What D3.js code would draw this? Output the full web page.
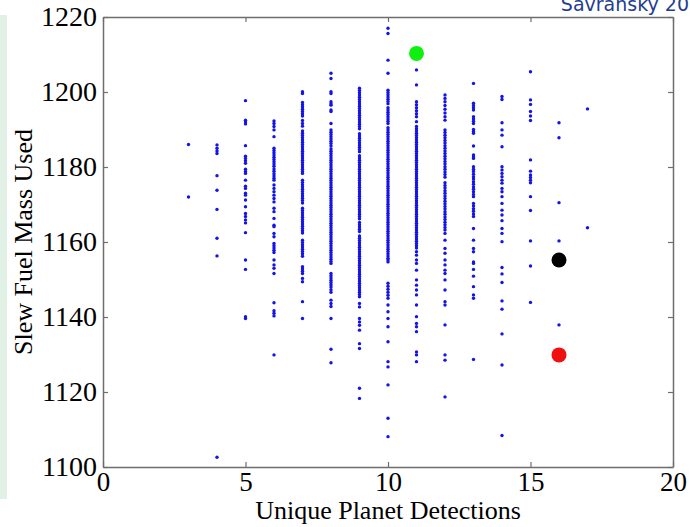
<!DOCTYPE html>
<html>
<head>
<meta charset="utf-8">
<script src="https://cdn.jsdelivr.net/npm/d3@7"></script>
<style>
  body { margin: 0; background: #fff; }
  svg { display: block; }
  .tick text { font-family: "Liberation Serif", "Times New Roman", serif; fill: #000; }
  .axis-title { font-family: "Liberation Serif", "Times New Roman", serif; font-size: 26px; fill: #000; }
</style>
</head>
<body>
<svg id="chart" width="690" height="527"></svg>
<script>

// slew fuel used per run, grouped by number of unique planet detections
var fuel3 = [1186.0, 1172.0];
var fuel4 = [1185.9, 1185.0, 1184.3, 1183.6, 1177.7, 1173.8, 1168.7, 1161.0, 1156.3, 1102.6];
var fuel5 = [1197.7, 1192.5, 1192.0, 1191.5, 1185.7, 1182.9, 1182.3, 1181.7, 1181.0, 1179.4, 1178.8, 1178.3,
    1176.5, 1174.9, 1174.3, 1173.0, 1172.5, 1171.2, 1169.4, 1167.6, 1166.8, 1165.9, 1165.1, 1162.5,
    1155.2, 1152.7, 1140.1, 1139.6];
var fuel6 = [1192.3, 1191.6, 1190.8, 1189.9, 1188.1, 1185.0, 1184.4, 1183.8, 1183.2, 1182.6, 1182.0, 1181.4,
    1180.8, 1180.2, 1179.5, 1178.9, 1178.2, 1177.6, 1177.0, 1176.5, 1175.2, 1174.3, 1173.4, 1172.5, 1171.6,
    1170.7, 1169.0, 1168.1, 1166.3, 1164.5, 1164.1, 1162.3, 1161.4, 1159.6, 1159.0, 1158.4, 1157.8, 1157.2,
    1155.2, 1153.9, 1153.0, 1151.6, 1143.8, 1141.7, 1141.0, 1140.3, 1129.9];
var fuel7 = [1200.1, 1199.6, 1197.2, 1196.6, 1196.0, 1195.4, 1194.8, 1194.2, 1193.6, 1192.4, 1191.6, 1190.9,
    1189.6, 1189.0, 1188.4, 1187.8, 1187.2, 1186.6, 1186.0, 1185.4, 1184.8, 1184.2, 1183.6, 1183.0, 1182.4,
    1181.8, 1181.2, 1180.6, 1180.0, 1179.4, 1178.8, 1178.3, 1176.5, 1175.9, 1175.3, 1174.7, 1174.1, 1173.5,
    1172.9, 1172.3, 1171.7, 1171.1, 1170.4, 1169.0, 1168.4, 1167.8, 1167.2, 1166.6, 1166.0, 1165.4, 1164.8,
    1164.2, 1163.6, 1163.0, 1162.4, 1160.5, 1159.9, 1159.3, 1158.7, 1158.1, 1157.5, 1156.9, 1156.2, 1153.4,
    1152.8, 1152.2, 1151.6, 1150.3, 1149.4, 1144.1, 1139.6];
var fuel8 = [1205.0, 1203.6, 1200.1, 1199.6, 1197.4, 1196.9, 1196.5, 1195.2, 1194.8, 1191.6, 1189.9, 1189.3,
    1188.7, 1188.1, 1187.5, 1186.9, 1186.3, 1185.6, 1184.8, 1184.2, 1183.6, 1183.0, 1182.4, 1181.8, 1181.2,
    1180.6, 1180.0, 1179.4, 1178.8, 1178.2, 1177.6, 1177.0, 1176.4, 1175.8, 1175.2, 1174.6, 1174.0, 1173.4,
    1172.8, 1172.2, 1171.6, 1171.0, 1170.4, 1169.8, 1169.2, 1168.6, 1168.0, 1167.4, 1166.8, 1166.2, 1165.6,
    1165.0, 1164.4, 1163.8, 1163.2, 1162.6, 1162.0, 1161.4, 1160.8, 1160.2, 1159.6, 1159.0, 1158.4, 1157.8,
    1157.2, 1156.6, 1156.0, 1155.4, 1154.8, 1154.3, 1151.6, 1151.0, 1150.4, 1149.8, 1149.2, 1148.6, 1148.0,
    1147.3, 1146.6, 1144.5, 1143.6, 1142.8, 1139.6, 1131.4, 1127.8];
var fuel9 = [1201.0, 1200.4, 1199.8, 1199.2, 1198.6, 1198.0, 1197.4, 1196.8, 1196.2, 1195.6, 1195.0, 1194.4,
    1193.8, 1193.2, 1192.6, 1192.0, 1191.4, 1190.8, 1190.2, 1188.9, 1188.3, 1187.7, 1187.1, 1186.5, 1185.9,
    1185.3, 1184.7, 1184.1, 1183.0, 1182.4, 1181.8, 1181.2, 1180.6, 1180.0, 1179.4, 1178.8, 1178.2, 1177.6,
    1177.0, 1176.4, 1175.8, 1175.2, 1174.6, 1174.0, 1173.4, 1172.8, 1172.2, 1171.6, 1171.0, 1170.4, 1169.8,
    1169.2, 1168.6, 1168.0, 1167.4, 1166.8, 1166.2, 1165.2, 1164.6, 1164.0, 1163.4, 1162.8, 1161.6, 1161.0,
    1160.4, 1159.8, 1159.2, 1158.6, 1158.0, 1157.4, 1156.8, 1156.2, 1155.6, 1155.0, 1154.4, 1153.8, 1153.2,
    1152.6, 1152.0, 1151.4, 1150.8, 1150.2, 1149.6, 1149.0, 1148.4, 1147.8, 1147.2, 1146.6, 1146.0, 1145.4,
    1143.6, 1142.7, 1139.6, 1138.7, 1137.8, 1136.5, 1132.9, 1131.6, 1121.0, 1118.3];
var fuel10 = [1217.0, 1215.6, 1208.5, 1205.0, 1200.5, 1199.9, 1199.3, 1198.7, 1198.1, 1197.5, 1196.9, 1195.8,
    1195.2, 1194.6, 1194.0, 1193.4, 1192.8, 1192.2, 1191.6, 1190.5, 1189.9, 1189.3, 1188.7, 1188.1, 1187.5,
    1186.9, 1186.3, 1185.7, 1185.1, 1184.5, 1183.9, 1183.3, 1182.7, 1182.1, 1181.5, 1180.9, 1180.3, 1179.7,
    1179.1, 1178.5, 1177.9, 1177.3, 1176.7, 1176.1, 1175.5, 1174.9, 1174.3, 1173.7, 1173.1, 1172.5, 1171.9,
    1171.3, 1170.7, 1170.1, 1169.5, 1168.9, 1168.3, 1167.7, 1167.1, 1166.5, 1165.9, 1165.3, 1164.7, 1164.1,
    1163.5, 1162.9, 1162.3, 1161.7, 1161.1, 1160.5, 1159.9, 1159.3, 1158.7, 1158.1, 1157.5, 1156.9, 1156.3,
    1155.7, 1155.2, 1154.7, 1149.0, 1148.2, 1147.4, 1146.6, 1145.8, 1145.0, 1143.2, 1141.4, 1139.6, 1137.4,
    1133.4, 1128.1, 1126.7, 1121.9, 1113.0, 1108.1];
var fuel11 = [1205.9, 1201.9, 1197.4, 1196.6, 1195.8, 1195.0, 1194.2, 1193.4, 1192.1, 1190.8, 1190.2, 1189.6,
    1189.0, 1188.4, 1187.8, 1187.2, 1186.6, 1186.0, 1185.4, 1184.8, 1184.2, 1183.6, 1183.0, 1182.4, 1181.8,
    1181.2, 1180.6, 1180.0, 1179.4, 1178.8, 1178.2, 1177.6, 1177.0, 1176.4, 1175.8, 1175.2, 1174.6, 1174.0,
    1173.4, 1172.8, 1172.2, 1171.6, 1171.0, 1170.4, 1169.8, 1169.2, 1168.6, 1168.0, 1167.4, 1166.8, 1166.2,
    1165.6, 1165.0, 1164.4, 1163.8, 1163.2, 1162.6, 1162.0, 1161.4, 1160.8, 1160.2, 1159.6, 1159.0, 1158.4,
    1157.4, 1156.5, 1155.2, 1154.3, 1152.5, 1149.9, 1148.5, 1147.2, 1145.9, 1143.2, 1140.1, 1138.3, 1137.4,
    1136.1, 1130.7, 1129.9, 1128.1];
var fuel12 = [1199.2, 1198.3, 1197.4, 1196.4, 1195.4, 1194.4, 1193.4, 1192.5, 1189.9, 1189.2, 1188.5, 1187.8,
    1187.1, 1186.4, 1185.7, 1185.0, 1184.3, 1183.6, 1182.9, 1182.2, 1181.5, 1180.8, 1180.1, 1179.4, 1178.7,
    1178.0, 1177.3, 1175.8, 1175.1, 1174.4, 1173.7, 1173.0, 1172.3, 1171.6, 1170.9, 1170.2, 1169.5, 1168.8,
    1168.1, 1167.4, 1166.7, 1166.0, 1165.3, 1164.6, 1163.9, 1163.2, 1162.3, 1160.5, 1158.3, 1157.0, 1155.2,
    1153.9, 1152.5, 1151.6, 1149.9, 1147.2, 1144.1, 1143.2, 1137.9, 1129.9, 1128.5, 1118.7];
var fuel13 = [1202.3, 1197.0, 1196.4, 1195.8, 1195.2, 1193.4, 1192.8, 1192.2, 1191.6, 1190.0, 1189.5, 1189.0,
    1185.6, 1183.2, 1182.7, 1182.3, 1180.1, 1179.4, 1178.8, 1178.1, 1177.4, 1176.8, 1176.1, 1175.4, 1174.7,
    1174.1, 1173.4, 1172.7, 1172.1, 1170.3, 1169.6, 1168.9, 1168.2, 1167.5, 1166.8, 1163.6, 1160.5, 1158.3,
    1157.4, 1154.7, 1154.3, 1152.7, 1150.9, 1148.1, 1145.9, 1145.0, 1128.7];
var fuel14 = [1198.8, 1198.0, 1191.8, 1189.9, 1188.5, 1185.4, 1180.1, 1179.2, 1178.3, 1177.4, 1176.5, 1175.7,
    1174.3, 1173.4, 1172.1, 1170.3, 1168.5, 1167.2, 1165.7, 1163.6, 1162.3, 1160.1, 1153.2, 1151.5, 1149.2,
    1144.3, 1142.1, 1135.5, 1127.2, 1108.4];
var fuel15 = [1205.4, 1197.9, 1196.7, 1194.8, 1193.6, 1192.4, 1181.9, 1178.9, 1177.9, 1177.2, 1176.5, 1175.8,
    1172.1, 1168.4, 1160.3, 1153.6, 1143.9];
var fuel16 = [1191.8, 1187.8, 1170.5, 1160.3, 1137.9];
var fuel17 = [1195.5, 1163.8];

var detections = [3, 4, 5, 6, 7, 8, 9, 10, 11, 12, 13, 14, 15, 16, 17];
var fuelByDetections = [fuel3, fuel4, fuel5, fuel6, fuel7, fuel8, fuel9, fuel10, fuel11, fuel12,
    fuel13, fuel14, fuel15, fuel16, fuel17];

// the three highlighted schedules
var markX = [11, 16, 16];
var markY = [1210.3, 1155.2, 1129.9];
var markColor = ['#10f010', '#000000', '#f01010'];

var xTicks = [0, 5, 10, 15, 20];
var yTicks = [1100, 1120, 1140, 1160, 1180, 1200, 1220];

var margin = {top: 17, right: 17, bottom: 60, left: 103};
var width = 690 - margin.left - margin.right;
var height = 527 - margin.top - margin.bottom;

var svg = d3.select('#chart');

// faint green strip of the slide on the far left
svg.append('rect')
    .attr('x', 0)
    .attr('y', 15)
    .attr('width', 7)
    .attr('height', 484)
    .attr('fill', '#e2f1e5');

// slide caption, clipped by the top-right corner in the original
svg.append('text')
    .attr('x', 689)
    .attr('y', 11)
    .style('text-anchor', 'end')
    .style('font-family', '"DejaVu Sans", Verdana, sans-serif')
    .style('font-size', '19px')
    .style('fill', '#233d8f')
    .text('Savransky 20');

var g = svg.append('g')
    .attr('transform', 'translate(' + margin.left + ',' + margin.top + ')');

var x = d3.scaleLinear().domain([0, 20]).range([0, width]);
var y = d3.scaleLinear().domain([1100, 1220]).range([height, 0]);

var points = [];
detections.forEach(function(n, i) {
    fuelByDetections[i].forEach(function(v) { points.push({n: n, fuel: v}); });
});

g.selectAll('.dot')
    .data(points)
  .enter().append('circle')
    .attr('class', 'dot')
    .attr('cx', function(d) { return x(d.n); })
    .attr('cy', function(d) { return y(d.fuel); })
    .attr('r', 1.7)
    .attr('fill', '#1414e6');

g.selectAll('.mark')
    .data(markX)
  .enter().append('circle')
    .attr('class', 'mark')
    .attr('cx', function(d) { return x(d); })
    .attr('cy', function(d, i) { return y(markY[i]); })
    .attr('r', 7.5)
    .attr('fill', function(d, i) { return markColor[i]; });

// box with inward ticks on all four sides
function styleAxis(sel) {
    sel.select('.domain').attr('stroke', '#6e6e6e').attr('stroke-width', 1.5);
    sel.selectAll('.tick line').attr('stroke', '#6e6e6e').attr('stroke-width', 1.2);
}

g.append('g')
    .attr('transform', 'translate(0,' + height + ')')
    .call(d3.axisBottom(x).tickValues(xTicks).tickFormat(d3.format('d'))
        .tickSize(-5).tickSizeOuter(0).tickPadding(5))
    .call(styleAxis)
    .selectAll('.tick text')
    .style('font-size', '27px');

g.append('g')
    .call(d3.axisLeft(y).tickValues(yTicks).tickFormat(d3.format('d'))
        .tickSize(-5).tickSizeOuter(0).tickPadding(6))
    .call(styleAxis)
    .selectAll('.tick text')
    .style('font-size', '28px');

g.append('g')
    .call(d3.axisTop(x).tickValues(xTicks).tickSize(-5).tickSizeOuter(0).tickFormat(''))
    .call(styleAxis);

g.append('g')
    .attr('transform', 'translate(' + width + ',0)')
    .call(d3.axisRight(y).tickValues(yTicks).tickSize(-5).tickSizeOuter(0).tickFormat(''))
    .call(styleAxis);

svg.append('text')
    .attr('class', 'axis-title')
    .attr('x', margin.left + width / 2)
    .attr('y', 519)
    .style('text-anchor', 'middle')
    .text('Unique Planet Detections');

svg.append('text')
    .attr('class', 'axis-title')
    .attr('transform', 'translate(32,' + (margin.top + height / 2) + ') rotate(-90)')
    .style('text-anchor', 'middle')
    .text('Slew Fuel Mass Used');

</script>
</body>
</html>
